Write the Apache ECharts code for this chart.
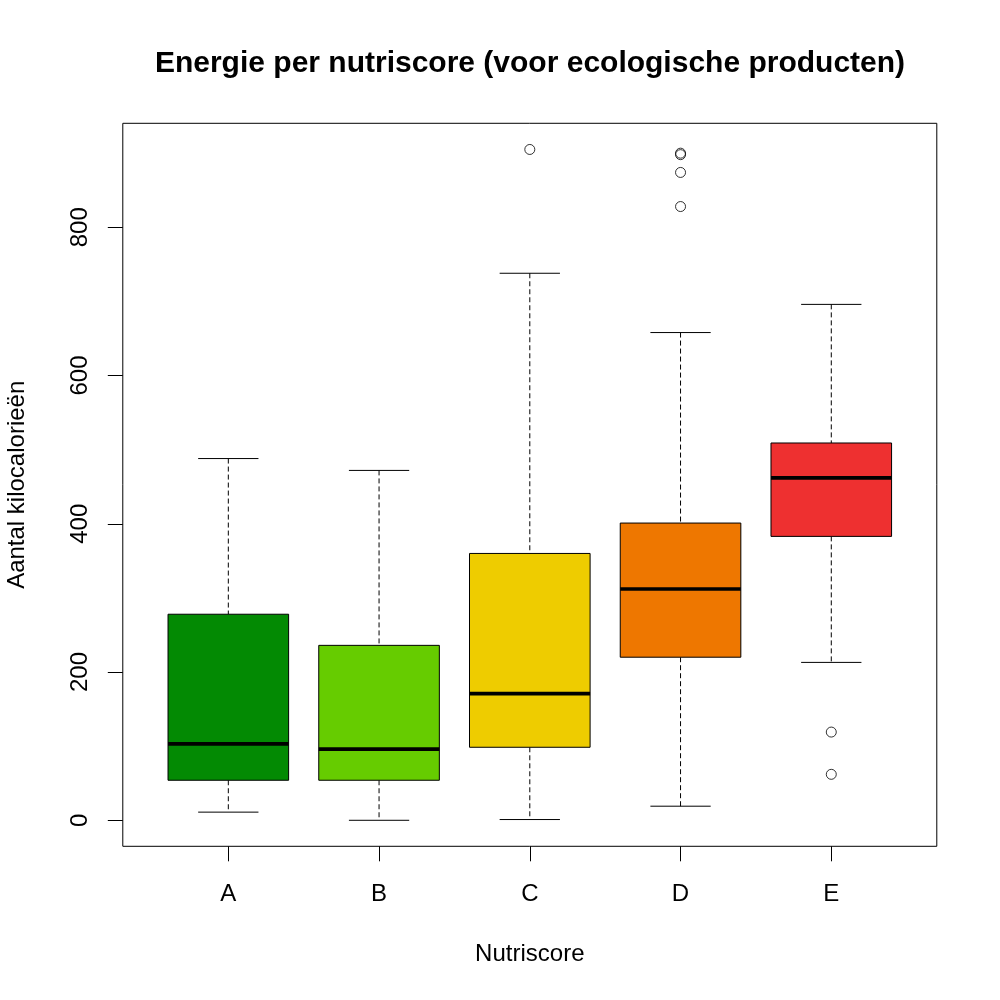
<!DOCTYPE html>
<html>
<head>
<meta charset="utf-8">
<title>Energie per nutriscore</title>
<script src="https://cdn.jsdelivr.net/npm/echarts@6.0.0/dist/echarts.min.js"></script>
<style>
  html, body { margin: 0; padding: 0; background: #fff; }
  #chart { width: 1000px; height: 1000px; }
</style>
</head>
<body>
<div id="chart"></div>
<script>
// boxplot stats per nutriscore
var categories = ['A', 'B', 'C', 'D', 'E'];
var whiskerLow = [11, 0, 1, 19, 213];
var quart1 = [54, 54, 98.5, 220, 383];
var medians = [103, 96, 171, 312, 462];
var quart3 = [278, 236, 360, 401, 509];
var whiskerHigh = [488, 472, 738, 658, 696];
var outliers = [[], [], [905], [900, 898, 874, 828], [119, 62]];
var yTicks = [0, 200, 400, 600, 800];

var boxColors = ['#038a03', '#66cc00', '#eecc00', '#ee7700', '#ee3030'];
var font = "'Liberation Sans', Arial, sans-serif";

var xPos = categories.map(function (c, i) { return i + 1; });

var boxData = categories.map(function (c, i) {
    return {
        value: [xPos[i], whiskerLow[i], quart1[i], medians[i], quart3[i], whiskerHigh[i]],
        itemStyle: { color: boxColors[i] }
    };
});

var outlierData = [];
outliers.forEach(function (list, i) {
    list.forEach(function (v) { outlierData.push([xPos[i], v]); });
});

function renderBox(params, api) {
    var x = api.value(0);
    var lo = api.coord([x, api.value(1)]);
    var b1 = api.coord([x, api.value(2)]);
    var md = api.coord([x, api.value(3)]);
    var b3 = api.coord([x, api.value(4)]);
    var hi = api.coord([x, api.value(5)]);
    var boxW = api.size([0.8, 0])[0];
    var capW = boxW / 2;
    var cx = lo[0];
    var dashed = { stroke: '#000', lineWidth: 1, lineDash: [5, 3] };
    var solid = { stroke: '#000', lineWidth: 1 };
    return {
        type: 'group',
        children: [
            { type: 'line', shape: { x1: cx, y1: hi[1], x2: cx, y2: b3[1] }, style: dashed },
            { type: 'line', shape: { x1: cx, y1: b1[1], x2: cx, y2: lo[1] }, style: dashed },
            { type: 'line', shape: { x1: cx - capW / 2, y1: hi[1], x2: cx + capW / 2, y2: hi[1] }, style: solid },
            { type: 'line', shape: { x1: cx - capW / 2, y1: lo[1], x2: cx + capW / 2, y2: lo[1] }, style: solid },
            {
                type: 'rect',
                shape: { x: cx - boxW / 2, y: b3[1], width: boxW, height: b1[1] - b3[1] },
                style: { fill: api.visual('color'), stroke: '#000', lineWidth: 1 }
            },
            { type: 'line', shape: { x1: cx - boxW / 2, y1: md[1], x2: cx + boxW / 2, y2: md[1] }, style: { stroke: '#000', lineWidth: 3.7 } }
        ]
    };
}

var myChart = echarts.init(document.getElementById('chart'));
var option = {
    backgroundColor: '#fff',
    animation: false,
    title: {
        text: 'Energie per nutriscore (voor ecologische producten)',
        left: 530,
        top: 49,
        textAlign: 'center',
        padding: 0,
        textStyle: {
            fontFamily: font,
            fontSize: 30,
            fontWeight: 'bold',
            color: '#000'
        }
    },
    grid: {
        left: 122.8,
        right: 63.2,
        top: 123.3,
        bottom: 153.7,
        show: true,
        borderColor: '#000',
        borderWidth: 1,
        containLabel: false,
        outerBoundsMode: 'none'
    },
    xAxis: {
        type: 'value',
        min: 0.3,
        max: 5.7,
        name: 'Nutriscore',
        nameLocation: 'middle',
        nameGap: 96,
        nameTextStyle: { fontFamily: font, fontSize: 24, color: '#000' },
        axisLine: { show: false, onZero: false },
        axisTick: {
            show: true,
            length: 15,
            customValues: xPos,
            lineStyle: { color: '#000', width: 1 }
        },
        axisLabel: {
            customValues: xPos,
            formatter: function (v) { return categories[Math.round(v) - 1]; },
            fontFamily: font,
            fontSize: 24,
            color: '#000',
            margin: 36
        },
        splitLine: { show: false }
    },
    yAxis: {
        type: 'value',
        min: -35.1,
        max: 940.3,
        name: 'Aantal kilocalorieën',
        nameLocation: 'middle',
        nameRotate: 90,
        nameGap: 93,
        nameTextStyle: { fontFamily: font, fontSize: 24, color: '#000' },
        axisLine: { show: false, onZero: false },
        axisTick: {
            show: true,
            length: 15,
            customValues: yTicks,
            lineStyle: { color: '#000', width: 1 }
        },
        axisLabel: {
            customValues: yTicks,
            rotate: 90,
            align: 'center',
            verticalAlign: 'middle',
            fontFamily: font,
            fontSize: 24,
            color: '#000',
            margin: 42
        },
        splitLine: { show: false }
    },
    series: [
        {
            name: 'box',
            type: 'custom',
            renderItem: renderBox,
            encode: { x: 0, y: [1, 2, 3, 4, 5] },
            data: boxData,
            z: 2
        },
        {
            name: 'outliers',
            type: 'scatter',
            symbol: 'circle',
            symbolSize: 10,
            itemStyle: { color: 'rgba(0,0,0,0)', borderColor: '#000', borderWidth: 1 },
            data: outlierData,
            z: 3
        }
    ]
};
myChart.setOption(option);
</script>
</body>
</html>
